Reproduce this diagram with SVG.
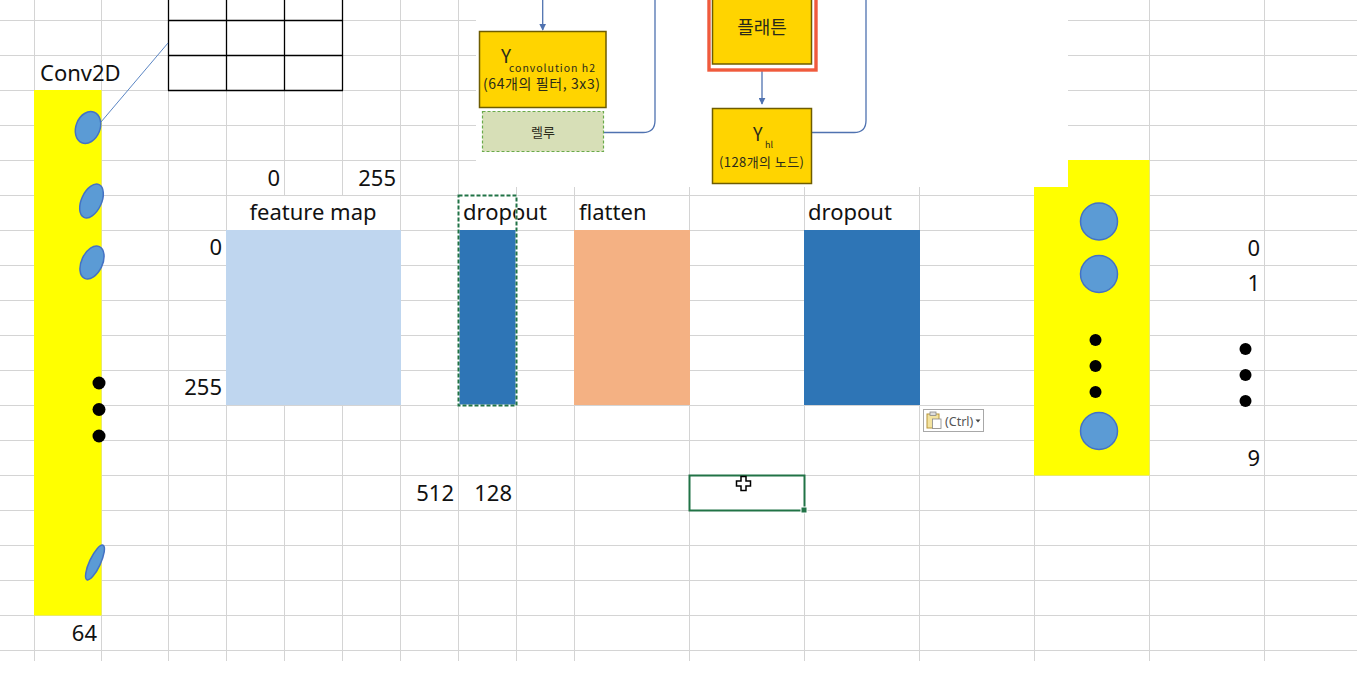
<svg xmlns="http://www.w3.org/2000/svg" width="1357" height="685" viewBox="0 0 1357 685">
<defs>
<style>
.g{stroke:#d4d4d4;stroke-width:1}
.t{font-family:"Noto Sans","Liberation Sans",sans-serif;font-size:22px;fill:#111}
.r{text-anchor:end}
.k{font-family:"Noto Sans CJK KR","Noto Sans",sans-serif;fill:#2a2a1a}
.yb{fill:#ffd400;stroke:#6e5c00;stroke-width:1.5}
.cn{fill:none;stroke:#4f72b0;stroke-width:1.3}
.el{fill:#5b9bd5;stroke:#4472c4;stroke-width:1.5}
.dot{fill:#000}
.tb{stroke:#000;stroke-width:1.3}
</style>
<marker id="ah" viewBox="0 0 10 10" refX="9" refY="5" markerWidth="7" markerHeight="7" orient="auto" markerUnits="userSpaceOnUse">
<path d="M0,0 L10,5 L0,10 z" fill="#4f72b0"/>
</marker>
</defs>
<rect width="1357" height="685" fill="#fff"/>
<g id="grid">
<path class="g" d="M0,20.5H1357M0,55.5H1357M0,90.5H1357M0,125.5H1357M0,160.5H1357M0,195.5H1357M0,230.5H1357M0,265.5H1357M0,300.5H1357M0,335.5H1357M0,370.5H1357M0,405.5H1357M0,440.5H1357M0,475.5H1357M0,510.5H1357M0,545.5H1357M0,580.5H1357M0,615.5H1357M0,650.5H1357"/>
<path class="g" d="M34.5,0V661M101.5,0V661M168.5,0V661M226.5,0V661M284.5,0V661M342.5,0V661M400.5,0V661M458.5,0V661M516.5,0V661M574.5,0V661M689.5,0V661M804.5,0V661M919.5,0V661M1034.5,0V661M1149.5,0V661M1264.5,0V661"/>
</g>
<g id="cells">
<rect x="34" y="90" width="67.5" height="525.5" fill="#ffff00"/>
<rect x="1034" y="160" width="115.5" height="315.5" fill="#ffff00"/>
<rect x="226" y="230" width="175" height="175" fill="#bfd6ef"/>
<rect x="459" y="230" width="57.5" height="175" fill="#2e75b6"/>
<rect x="574" y="230" width="116" height="175" fill="#f4b183"/>
<rect x="804" y="230" width="116" height="175" fill="#2e75b6"/>
<rect x="227" y="196" width="173" height="34" fill="#fff"/>
<rect x="476" y="0" width="592" height="187" fill="#fff"/>
</g>
<g id="labels">
<text class="t" x="40" y="81">Conv2D</text>
<text class="t r" x="280" y="185.5">0</text>
<text class="t r" x="396" y="185.5">255</text>
<text class="t" x="313" y="220" text-anchor="middle">feature map</text>
<text class="t" x="463" y="220">dropout</text>
<text class="t" x="579" y="220">flatten</text>
<text class="t" x="808" y="220">dropout</text>
<text class="t r" x="222" y="255">0</text>
<text class="t r" x="222" y="395">255</text>
<text class="t r" x="454" y="500.5">512</text>
<text class="t r" x="512" y="500.5">128</text>
<text class="t r" x="97" y="640.5">64</text>
<text class="t r" x="1260" y="255.5">0</text>
<text class="t r" x="1260" y="290.5">1</text>
<text class="t r" x="1260" y="465.5">9</text>
</g>
<g id="kernel-table">
<path class="tb" d="M168.5,0V90.5M226.5,0V90.5M284.5,0V90.5M342.5,0V90.5M168,20.5H343M168,55.5H343M168,90.5H343"/>
<line x1="101" y1="122" x2="168" y2="43" stroke="#5b86c4" stroke-width="1"/>
</g>
<g id="conv-nodes">
<ellipse class="el" cx="88" cy="127.5" rx="12" ry="16.5" transform="rotate(22 88 127.5)"/>
<ellipse class="el" cx="91.5" cy="201" rx="10" ry="18" transform="rotate(25 91.5 201)"/>
<ellipse class="el" cx="92" cy="262.5" rx="10.5" ry="17.5" transform="rotate(25 92 262.5)"/>
<ellipse class="el" cx="95" cy="562.5" rx="5.5" ry="19" transform="rotate(25 95 562.5)"/>
<circle class="dot" cx="99" cy="383" r="6.5"/>
<circle class="dot" cx="99" cy="409.5" r="6.5"/>
<circle class="dot" cx="99" cy="436" r="6.5"/>
</g>
<g id="output-nodes">
<circle class="el" cx="1099" cy="221.5" r="18.5"/>
<circle class="el" cx="1099" cy="274" r="18.5"/>
<circle class="el" cx="1099" cy="431" r="18.5"/>
<circle class="dot" cx="1095.5" cy="340" r="6"/>
<circle class="dot" cx="1095.5" cy="366" r="6"/>
<circle class="dot" cx="1095.5" cy="392" r="6"/>
<circle class="dot" cx="1245.5" cy="349" r="6"/>
<circle class="dot" cx="1245.5" cy="375" r="6"/>
<circle class="dot" cx="1245.5" cy="401" r="6"/>
</g>
<g id="connectors">
<line class="cn" x1="542.7" y1="0" x2="542.7" y2="30" marker-end="url(#ah)"/>
<line class="cn" x1="762" y1="64" x2="762" y2="104" marker-end="url(#ah)"/>
<path class="cn" d="M603.5,132.5H643Q655,132.5 655,120.5V0"/>
<path class="cn" d="M812,132.5H854Q866,132.5 866,120.5V0"/>
</g>
<g id="node-conv">
<rect class="yb" x="479.5" y="31.5" width="126.5" height="76"/>
<text class="k" x="501" y="63" font-size="19">Y</text>
<text class="k" x="509" y="71.5" font-size="10.5" textLength="86" lengthAdjust="spacing">convolution h2</text>
<text class="k" x="483" y="88.5" font-size="14" textLength="117" lengthAdjust="spacing">(64개의 필터, 3x3)</text>
</g>
<g id="node-relu">
<rect x="482.5" y="111.5" width="121" height="40" fill="#d7dfb7" stroke="#6aaa4a" stroke-width="1.2" stroke-dasharray="3 2"/>
<text class="k" x="543" y="136.5" font-size="13" text-anchor="middle">렐루</text>
</g>
<g id="node-flatten">
<rect x="709" y="-10" width="107" height="80" fill="#fff" stroke="#f05a3c" stroke-width="3.4"/>
<rect class="yb" x="712.5" y="-5" width="99" height="69"/>
<text class="k" x="762" y="34" font-size="18" text-anchor="middle">플래튼</text>
</g>
<g id="node-hl">
<rect class="yb" x="712.5" y="108.5" width="99" height="75"/>
<text class="k" x="753" y="140.5" font-size="18">Y</text>
<text class="k" x="765" y="148" font-size="9">hl</text>
<text class="k" x="719" y="167" font-size="13" textLength="85" lengthAdjust="spacing">(128개의 노드)</text>
</g>
<g id="excel-ui">
<rect x="458.5" y="195.5" width="58" height="210" fill="none" stroke="#fff" stroke-width="2"/>
<rect x="458.5" y="195.5" width="58" height="210" fill="none" stroke="#217346" stroke-width="2" stroke-dasharray="4 2"/>
<rect x="689.5" y="475.5" width="115" height="35" fill="none" stroke="#217346" stroke-width="2"/>
<rect x="801" y="507" width="6" height="6" fill="#217346" stroke="#fff" stroke-width="1"/>
<path d="M741,476.5h5v4.5h4.5v5h-4.5v4.5h-5v-4.5h-4.5v-5h4.5z" fill="#fff" stroke="#000" stroke-width="1.5"/>
<rect x="923.5" y="409.5" width="60" height="22" fill="#fff" stroke="#a8a8a8" stroke-width="1"/>
<rect x="927" y="414" width="12" height="14" fill="#f3e3a0" stroke="#b8953a" stroke-width="1"/>
<rect x="930" y="412" width="6" height="3.5" fill="#ddd" stroke="#888" stroke-width="0.8"/>
<rect x="932.5" y="419" width="8.5" height="9.5" fill="#fff" stroke="#888" stroke-width="0.8"/>
<text x="945" y="425.5" font-family="Noto Sans,Liberation Sans,sans-serif" font-size="12.5" fill="#555">(Ctrl)</text>
<path d="M975.5,419.5h5l-2.5,3z" fill="#444"/>
</g>
</svg>
